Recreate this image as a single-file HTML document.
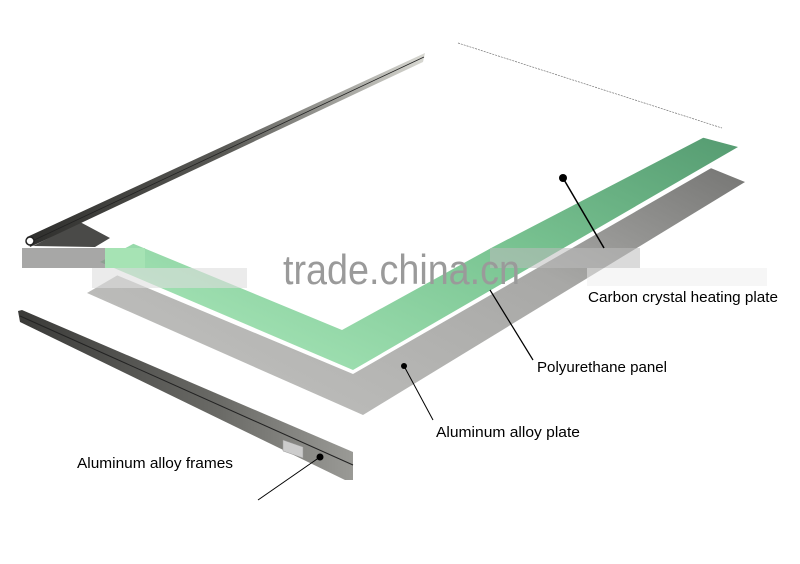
<!DOCTYPE html>
<html><head><meta charset="utf-8"><style>
html,body{margin:0;padding:0;background:#fff;width:800px;height:564px;overflow:hidden}
svg{display:block}
text{font-family:"Liberation Sans",sans-serif}
</style></head><body>
<svg width="800" height="564" viewBox="0 0 800 564" xmlns="http://www.w3.org/2000/svg">
<defs>
<linearGradient id="gr" x1="0" y1="1" x2="1" y2="0">
<stop offset="0" stop-color="#b0ecbf"/><stop offset="0.5" stop-color="#7cc694"/><stop offset="1" stop-color="#4a8f67"/>
</linearGradient>
<linearGradient id="gy" x1="0" y1="1" x2="1" y2="0">
<stop offset="0" stop-color="#c4c4c2"/><stop offset="0.55" stop-color="#a8a8a6"/><stop offset="1" stop-color="#5f5f5d"/>
</linearGradient>
<linearGradient id="rail" x1="0" y1="0" x2="1" y2="0">
<stop offset="0" stop-color="#2e2e2c"/><stop offset="0.5" stop-color="#5a5a56"/><stop offset="1" stop-color="#d8d8d2"/>
</linearGradient>
<linearGradient id="rail2" x1="0" y1="0" x2="1" y2="0">
<stop offset="0" stop-color="#3a3a38"/><stop offset="0.6" stop-color="#6a6a66"/><stop offset="1" stop-color="#9a9a96"/>
</linearGradient>
</defs>
<!-- gray plate -->
<polygon points="87,293 363,415 745,182 470,70" fill="url(#gy)"/>
<!-- white gap line -->
<polygon points="95,266 353,374 741,151 450,66" fill="#fff"/>
<!-- green -->
<polygon points="100,262 353,370 738,147 450,70" fill="url(#gr)"/>
<!-- white plate -->
<polygon points="100,230 342,330 493,247 722,128 458,43" fill="#fff"/>
<polyline points="458,43 722,128" fill="none" stroke="#777" stroke-width="0.7" stroke-dasharray="2,1"/>
<!-- shadow under rail -->
<polygon points="33,246 80,222 110,238 95,247" fill="#4a4a48"/>
<!-- top rail -->
<polygon points="27,237 425,53 423,62 30,247" fill="url(#rail)"/>
<line x1="30" y1="242" x2="424" y2="57" stroke="#222" stroke-width="0.8"/>
<circle cx="30" cy="241" r="4" fill="#fff" stroke="#222" stroke-width="1.5"/>
<!-- bottom rail -->
<polygon points="18,311 22,310 353,452 353,480 345,480 20,322" fill="url(#rail2)"/>
<line x1="20" y1="316" x2="353" y2="465" stroke="#222" stroke-width="1"/>
<polygon points="283,440 303,447 303,458 283,451" fill="#ccc" stroke="#999" stroke-width="0.5"/>
<!-- watermark band -->
<rect x="22" y="248" width="122" height="20" fill="#8a8a88" opacity="0.75"/>
<rect x="105" y="248" width="40" height="20" fill="#a6e3b4"/>
<rect x="92" y="268" width="155" height="20" fill="#ddd" opacity="0.6"/>
<rect x="490" y="248" width="150" height="20" fill="#bbb" opacity="0.55"/>
<rect x="587" y="268" width="180" height="18" fill="#eee" opacity="0.5"/>
<text x="283" y="284" font-size="42" fill="#9a9a9a" textLength="237" lengthAdjust="spacingAndGlyphs">trade.china.cn</text>
<!-- leaders -->
<circle cx="563" cy="178" r="4" fill="#000"/>
<line x1="563" y1="178" x2="604" y2="248" stroke="#000" stroke-width="1.5"/>
<line x1="490" y1="290" x2="533" y2="360" stroke="#000" stroke-width="1.2"/>
<circle cx="404" cy="366" r="3" fill="#000"/>
<line x1="404" y1="366" x2="433" y2="420" stroke="#000" stroke-width="1"/>
<circle cx="320" cy="457" r="3.5" fill="#000"/>
<line x1="320" y1="457" x2="258" y2="500" stroke="#000" stroke-width="1"/>
<!-- labels -->
<text x="588" y="302" font-size="14.5" fill="#000" textLength="190" lengthAdjust="spacingAndGlyphs">Carbon crystal heating plate</text>
<text x="537" y="372" font-size="14.5" fill="#000" textLength="130" lengthAdjust="spacingAndGlyphs">Polyurethane panel</text>
<text x="436" y="437" font-size="14.5" fill="#000" textLength="144" lengthAdjust="spacingAndGlyphs">Aluminum alloy plate</text>
<text x="77" y="468" font-size="14.5" fill="#000" textLength="156" lengthAdjust="spacingAndGlyphs">Aluminum alloy frames</text>
</svg>
</body></html>
